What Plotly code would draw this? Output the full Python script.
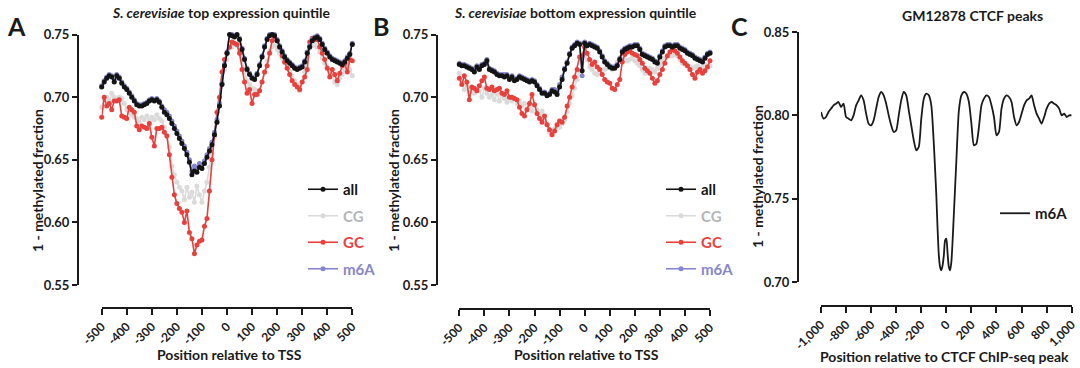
import plotly.graph_objects as go

# ---------------- data ----------------
pos_tss = list(range(-500, 501, 10))

a_all = [0.708,0.712,0.715,0.717,0.716,0.712,0.717,0.715,0.711,0.708,
         0.706,0.703,0.700,0.697,0.694,0.693,0.693,0.694,0.695,0.697,
         0.698,0.697,0.698,0.696,0.692,0.688,0.686,0.683,0.679,0.675,
         0.671,0.667,0.663,0.659,0.654,0.648,0.638,0.641,0.640,0.644,
         0.643,0.647,0.652,0.657,0.662,0.670,0.680,0.693,0.710,0.725,
         0.735,0.750,0.749,0.748,0.750,0.746,0.738,0.730,0.722,0.718,
         0.715,0.714,0.718,0.725,0.732,0.740,0.746,0.749,0.750,0.749,
         0.745,0.740,0.736,0.732,0.729,0.727,0.725,0.723,0.722,0.723,
         0.724,0.728,0.735,0.740,0.745,0.747,0.748,0.746,0.742,0.738,
         0.735,0.732,0.730,0.729,0.728,0.727,0.726,0.728,0.731,0.734,0.742]
a_m6a = [0.709,0.713,0.716,0.718,0.717,0.713,0.718,0.716,0.712,0.709,
         0.707,0.704,0.701,0.698,0.695,0.694,0.694,0.695,0.696,0.698,
         0.699,0.698,0.699,0.697,0.693,0.690,0.688,0.685,0.681,0.677,
         0.673,0.669,0.665,0.661,0.656,0.650,0.641,0.645,0.643,0.647,
         0.646,0.649,0.654,0.659,0.664,0.672,0.682,0.695,0.711,0.726,
         0.736,0.751,0.750,0.749,0.751,0.747,0.739,0.731,0.723,0.719,
         0.716,0.715,0.719,0.726,0.733,0.741,0.747,0.750,0.751,0.750,
         0.746,0.741,0.737,0.733,0.730,0.728,0.726,0.724,0.723,0.724,
         0.725,0.729,0.736,0.741,0.746,0.748,0.749,0.747,0.743,0.739,
         0.736,0.733,0.731,0.730,0.729,0.728,0.727,0.729,0.732,0.735,0.743]
a_gc = [0.684,0.700,0.693,0.695,0.690,0.697,0.697,0.698,0.685,0.684,
        0.683,0.692,0.690,0.688,0.677,0.674,0.677,0.676,0.675,0.679,
        0.668,0.661,0.675,0.675,0.676,0.672,0.669,0.654,0.636,0.622,
        0.615,0.611,0.608,0.600,0.609,0.592,0.587,0.575,0.582,0.585,
        0.586,0.597,0.603,0.625,0.650,0.670,0.688,0.700,0.720,0.730,
        0.735,0.740,0.744,0.743,0.742,0.735,0.722,0.712,0.703,0.706,
        0.695,0.702,0.702,0.705,0.712,0.720,0.725,0.735,0.745,0.748,
        0.745,0.740,0.733,0.728,0.723,0.718,0.713,0.710,0.708,0.706,
        0.712,0.716,0.722,0.744,0.747,0.746,0.746,0.740,0.735,0.730,
        0.723,0.716,0.722,0.718,0.713,0.719,0.725,0.727,0.720,0.730,0.729]
a_cg = [0.692,0.698,0.700,0.697,0.703,0.700,0.698,0.700,0.699,0.695,
        0.690,0.688,0.686,0.684,0.683,0.680,0.684,0.682,0.685,0.681,
        0.684,0.682,0.686,0.683,0.681,0.676,0.670,0.660,0.645,0.638,
        0.632,0.628,0.625,0.618,0.628,0.620,0.624,0.616,0.629,0.622,
        0.616,0.625,0.632,0.644,0.655,0.668,0.680,0.697,0.713,0.722,
        0.730,0.739,0.740,0.742,0.741,0.737,0.731,0.720,0.713,0.710,
        0.707,0.706,0.705,0.705,0.712,0.720,0.729,0.737,0.740,0.741,
        0.738,0.735,0.731,0.727,0.724,0.721,0.717,0.713,0.710,0.705,
        0.712,0.720,0.732,0.739,0.741,0.742,0.740,0.736,0.731,0.727,
        0.724,0.721,0.717,0.712,0.710,0.715,0.718,0.722,0.726,0.722,0.717]

b_all = [0.726,0.725,0.725,0.724,0.723,0.722,0.720,0.724,0.722,0.725,
         0.726,0.729,0.722,0.721,0.720,0.718,0.717,0.717,0.716,0.717,
         0.714,0.716,0.713,0.714,0.716,0.715,0.714,0.713,0.712,0.713,
         0.712,0.709,0.706,0.703,0.703,0.701,0.702,0.705,0.704,0.702,
         0.708,0.714,0.722,0.727,0.734,0.739,0.741,0.743,0.742,0.721,
         0.743,0.741,0.742,0.741,0.740,0.739,0.736,0.732,0.728,0.726,
         0.724,0.723,0.723,0.725,0.730,0.736,0.738,0.739,0.740,0.740,
         0.741,0.741,0.738,0.734,0.733,0.732,0.731,0.730,0.728,0.727,
         0.732,0.736,0.740,0.741,0.741,0.740,0.741,0.741,0.739,0.738,
         0.737,0.735,0.734,0.733,0.731,0.730,0.729,0.728,0.731,0.734,0.735]
b_m6a = [0.727,0.726,0.726,0.725,0.724,0.723,0.721,0.725,0.723,0.726,
         0.727,0.730,0.723,0.722,0.721,0.719,0.718,0.718,0.718,0.718,
         0.715,0.717,0.714,0.715,0.717,0.716,0.715,0.714,0.713,0.714,
         0.713,0.710,0.707,0.704,0.704,0.702,0.703,0.706,0.706,0.704,
         0.710,0.716,0.723,0.728,0.735,0.740,0.742,0.744,0.743,0.717,
         0.744,0.742,0.743,0.742,0.741,0.740,0.737,0.733,0.729,0.727,
         0.725,0.724,0.724,0.726,0.731,0.737,0.739,0.740,0.741,0.741,
         0.742,0.742,0.739,0.735,0.734,0.733,0.732,0.731,0.729,0.728,
         0.733,0.737,0.741,0.742,0.742,0.741,0.742,0.742,0.740,0.739,
         0.738,0.736,0.735,0.734,0.732,0.731,0.730,0.729,0.732,0.735,0.736]
b_gc = [0.715,0.710,0.717,0.712,0.698,0.708,0.707,0.705,0.709,0.713,
        0.716,0.707,0.706,0.708,0.705,0.706,0.707,0.703,0.702,0.705,
        0.700,0.700,0.699,0.698,0.692,0.687,0.685,0.690,0.695,0.702,
        0.694,0.687,0.683,0.680,0.685,0.678,0.674,0.670,0.673,0.678,
        0.681,0.680,0.684,0.693,0.700,0.708,0.716,0.722,0.732,0.733,
        0.740,0.735,0.730,0.726,0.728,0.724,0.722,0.718,0.714,0.712,
        0.711,0.707,0.706,0.710,0.714,0.728,0.734,0.736,0.737,0.735,
        0.734,0.733,0.730,0.727,0.723,0.721,0.719,0.715,0.711,0.713,
        0.718,0.722,0.727,0.733,0.736,0.738,0.737,0.735,0.732,0.729,
        0.727,0.725,0.722,0.718,0.715,0.720,0.722,0.719,0.721,0.724,0.729]
b_cg = [0.719,0.712,0.706,0.710,0.704,0.707,0.703,0.706,0.705,0.700,
        0.707,0.703,0.700,0.702,0.698,0.703,0.697,0.701,0.699,0.696,
        0.700,0.697,0.699,0.695,0.697,0.693,0.695,0.691,0.693,0.689,
        0.694,0.690,0.686,0.689,0.683,0.678,0.672,0.670,0.675,0.677,
        0.676,0.679,0.682,0.688,0.695,0.701,0.707,0.714,0.721,0.728,
        0.733,0.730,0.724,0.722,0.719,0.718,0.720,0.721,0.722,0.723,
        0.724,0.722,0.725,0.728,0.729,0.730,0.730,0.729,0.730,0.731,
        0.729,0.727,0.725,0.722,0.719,0.721,0.723,0.722,0.720,0.723,
        0.726,0.729,0.731,0.732,0.733,0.733,0.734,0.733,0.730,0.727,
        0.726,0.725,0.724,0.723,0.724,0.725,0.723,0.724,0.726,0.725,0.725]

pos_ctcf = [-1000,-980,-960,-940,-920,-900,-880,-860,-840,-820,
            -800,-780,-760,-740,-720,-700,-680,-660,-640,-620,
            -600,-580,-560,-540,-520,-500,-480,-460,-440,-420,
            -400,-380,-360,-340,-320,-300,-280,-260,-240,-220,
            -200,-180,-160,-140,-120,-100,-90,-80,-70,-60,
            -50,-40,-30,-20,-10,0,10,20,30,40,
            50,60,70,80,90,100,120,140,160,180,
            200,220,240,260,280,300,320,340,360,380,
            400,420,440,460,480,500,520,540,560,580,
            600,620,640,660,680,700,720,740,760,780,
            800,820,840,860,880,900,920,940,960,980,1000]
c_m6a = [0.802,0.798,0.799,0.802,0.804,0.806,0.807,0.808,0.805,0.807,
         0.799,0.798,0.797,0.800,0.806,0.809,0.812,0.809,0.801,0.795,
         0.794,0.797,0.804,0.811,0.814,0.812,0.807,0.800,0.794,0.790,
         0.791,0.800,0.809,0.814,0.812,0.803,0.794,0.785,0.779,0.781,
         0.798,0.810,0.813,0.812,0.806,0.783,0.768,0.752,0.732,0.716,
         0.709,0.707,0.710,0.716,0.725,0.726,0.717,0.709,0.707,0.712,
         0.725,0.741,0.757,0.773,0.790,0.803,0.812,0.814,0.813,0.808,
         0.795,0.782,0.783,0.793,0.806,0.810,0.812,0.811,0.806,0.799,
         0.788,0.790,0.804,0.810,0.812,0.811,0.808,0.799,0.794,0.796,
         0.801,0.806,0.809,0.810,0.812,0.806,0.801,0.798,0.795,0.799,
         0.804,0.807,0.808,0.807,0.806,0.804,0.800,0.801,0.799,0.800,0.800]

tss_ticks = [-500,-400,-300,-200,-100,0,100,200,300,400,500]
tss_labels = ["-500","-400","-300","-200","-100","0","100","200","300","400","500"]
ctcf_ticks = [-1000,-800,-600,-400,-200,0,200,400,600,800,1000]
ctcf_labels = ["-1,000","-800","-600","-400","-200","0","200","400","600","800","1,000"]
y_ticks_ab = [0.55,0.60,0.65,0.70,0.75]
y_ticks_c = [0.70,0.75,0.80,0.85]

# ---------------- style ----------------
W, H = 1080, 368
FONT = "Lato"
INK = "#1a1a1a"
C_ALL, C_M6A, C_GC, C_CG = "#141414", "#8686cc", "#e8403c", "#dadada"
LEG_CG = "#b5b5b5"

def fx(x):
    return x / W

def fy(y):
    return 1 - y / H

fig = go.Figure()

series = [
    ("CG", C_CG, LEG_CG, 2),
    ("GC", C_GC, C_GC, 3),
    ("m6A", C_M6A, C_M6A, 4),
    ("all", C_ALL, C_ALL, 1),
]
panels = [
    ("x", "y", "legend", {"all": a_all, "m6A": a_m6a, "GC": a_gc, "CG": a_cg}),
    ("x2", "y2", "legend2", {"all": b_all, "m6A": b_m6a, "GC": b_gc, "CG": b_cg}),
]
for xa, ya, leg, data in panels:
    for name, col, tcol, rank in series:
        fig.add_trace(go.Scatter(
            x=pos_tss, y=data[name], xaxis=xa, yaxis=ya,
            mode="lines+markers", cliponaxis=False,
            line=dict(color=col, width=1.6),
            marker=dict(color=col, size=5),
            name=f'<span style="color:{tcol}">{name}</span>',
            legend=leg, legendrank=rank, legendgroup=leg + name,
            hoverinfo="skip",
        ))

fig.add_trace(go.Scatter(
    x=pos_ctcf, y=c_m6a, xaxis="x3", yaxis="y3", mode="lines",
    line=dict(color=INK, width=1.8, shape="spline", smoothing=0.6),
    name="m6A", legend="legend3", cliponaxis=False, hoverinfo="skip",
))

def xax(domain, rng, pos, ticks, labels):
    return dict(domain=domain, range=rng, anchor="free", position=pos,
                automargin=False,
                showline=True, linewidth=2, linecolor=INK, ticks="outside",
                ticklen=6, tickwidth=2, tickcolor=INK, tickvals=ticks,
                ticktext=labels, tickangle=-45, showgrid=False, zeroline=False,
                tickfont=dict(size=12, color=INK, family=FONT, weight="bold"))

def yax(domain, rng, pos, ticks):
    return dict(domain=domain, range=rng, anchor="free", position=pos,
                automargin=False,
                showline=True, linewidth=2, linecolor=INK, ticks="outside",
                ticklen=5, tickwidth=2, tickcolor=INK, tickvals=ticks,
                tickformat=".2f", showgrid=False, zeroline=False,
                tickfont=dict(size=13, color=INK, family=FONT, weight="bold"))

ydom_ab = [fy(285), fy(34.5)]
fig.update_layout(
    template="none",
    width=W, height=H, margin=dict(l=0, r=0, t=0, b=0, autoexpand=False),
    paper_bgcolor="white", plot_bgcolor="white",
    font=dict(family=FONT, color=INK, size=13, weight="bold"),
    xaxis=xax([fx(101.7), fx(352.3)], [-500, 500], fy(308), tss_ticks, tss_labels),
    yaxis=yax(ydom_ab, [0.55, 0.75], fx(78), y_ticks_ab),
    xaxis2=xax([fx(459.3), fx(710)], [-500, 500], fy(309), tss_ticks, tss_labels),
    yaxis2=yax(ydom_ab, [0.55, 0.75], fx(437), y_ticks_ab),
    xaxis3=xax([fx(821), fx(1071.7)], [-1000, 1000], fy(306), ctcf_ticks, ctcf_labels),
    yaxis3=yax([fy(282), fy(32)], [0.70, 0.85], fx(798), y_ticks_c),
    showlegend=True,
)

def legend_box(x, y):
    return dict(x=fx(x), y=fy(y), xanchor="left", yanchor="top",
                bgcolor="rgba(0,0,0,0)", tracegroupgap=4, itemwidth=30,
                font=dict(size=15, family=FONT, weight="bold"))

fig.update_layout(legend=legend_box(303, 173), legend2=legend_box(661, 173),
                  legend3=legend_box(995, 197))

ann = []
def text(x, y, s, size=12, angle=0, xanchor="center"):
    ann.append(dict(x=fx(x), y=fy(y), xref="paper", yref="paper", text=s,
                    showarrow=False, textangle=angle, xanchor=xanchor, yanchor="middle",
                    font=dict(size=size, family=FONT, color=INK, weight="bold")))

text(16, 26, "A", size=25)
text(381, 26, "B", size=25)
text(739, 26, "C", size=25)
text(221, 13, "<i>S. cerevisiae</i> top expression quintile", size=14)
text(575, 13, "<i>S. cerevisiae</i> bottom expression quintile", size=14)
text(972, 15, "GM12878 CTCF peaks", size=14)
text(229, 354, "Position relative to TSS", size=14)
text(586, 354, "Position relative to TSS", size=14)
text(944, 356, "Position relative to CTCF ChIP-seq peak", size=14)
text(37, 181, "1 - methylated fraction", size=14, angle=-90)
text(393, 181, "1 - methylated fraction", size=14, angle=-90)
text(757, 177, "1 - methylated fraction", size=14, angle=-90)
fig.update_layout(annotations=ann)

fig.write_html("out.html")
